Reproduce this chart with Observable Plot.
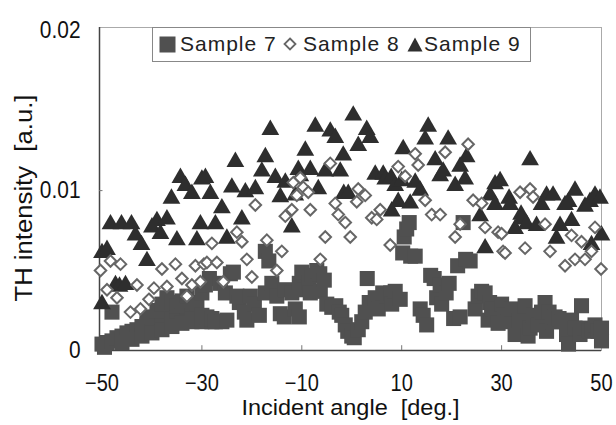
<!DOCTYPE html>
<html><head><meta charset="utf-8">
<script src="https://cdn.jsdelivr.net/npm/d3@7"></script>
<script src="https://cdn.jsdelivr.net/npm/@observablehq/plot@0.6"></script>
<style>
body{margin:0;background:#fff;}
#wrap{position:relative;width:616px;height:425px;overflow:hidden;}
#legend{position:absolute;left:152px;top:27px;width:379px;height:35px;box-sizing:border-box;border:1.5px solid #888;background:#fff;
  font-family:"Liberation Sans",Arimo,sans-serif;font-size:21px;letter-spacing:1px;color:#222;z-index:5;}
#legend .item{position:absolute;top:0;height:32px;display:flex;align-items:center;white-space:pre;}
</style></head>
<body><div id="wrap"><div id="chart"></div>
<div id="legend"></div></div>
<script>
// Series names
const seriesNames = ["Sample 7", "Sample 8", "Sample 9"];
const xTicks = [-50, -30, -10, 10, 30, 50];
const yTicks = [0, 0.01, 0.02];
const xLabel = "Incident angle\u00a0\u00a0[deg.]";
const yLabel = "TH intensity\u00a0\u00a0[a.u.]";

// [incident angle (deg), TH intensity (a.u.)]
const sample7 = [
[-50,0.0004],[-49.5,0.0002],[-49,0.0005],[-48,0.0006],[-48,0.0024],[-47,0.0008],[-46,0.0009],[-45,0.0011],[-44,0.0012],
[-43,0.0013],[-42,0.0015],[-41,0.0016],[-40,0.0018],[-39,0.0019],[-38,0.0021],[-37,0.0022],[-36,0.0024],[-35,0.0025],
[-34,0.0026],[-33,0.0027],[-32,0.0025],[-31,0.0021],[-41,0.0021],[-39,0.0025],[-38,0.0029],[-37,0.0033],[-36,0.0030],
[-46,0.0005],[-44,0.0007],[-42,0.0009],[-40,0.0011],[-38,0.0013],[-36,0.0015],[-34,0.0017],[-32,0.0018],[-30,0.0018],[-28,0.0018],
[-35,0.0028],[-34,0.0031],[-33,0.0034],[-32,0.0029],[-31,0.0030],[-30,0.0036],[-29.3,0.0041],[-28.5,0.0045],[-30,0.0022],
[-29,0.0021],[-28,0.0020],[-27.3,0.0018],[-26,0.0018],[-25,0.0019],[-26.3,0.0042],[-25.3,0.0036],[-24.3,0.0048],[-23.7,0.0049],
[-23,0.0034],[-22.5,0.0030],[-21.5,0.0024],[-21,0.0019],[-20.3,0.0034],[-19.5,0.0029],[-18.5,0.0022],[-17.3,0.0036],
[-17.3,0.0062],[-16.6,0.0056],[-16,0.0042],[-15,0.0034],[-14.3,0.0023],[-13.5,0.0021],[-13.3,0.0038],[-12,0.0036],
[-11.3,0.0026],[-10.5,0.0021],[-10.5,0.0042],[-10,0.0049],[-9.5,0.0038],[-8.5,0.0043],[-8.3,0.0036],[-7.9,0.0047],[-7,0.0050],
[-6.4,0.0048],[-6.3,0.0037],[-5.5,0.0044],[-5,0.0029],[-4,0.0027],[-3.2,0.0028],[-2.5,0.0024],[-2,0.0022],[-1.3,0.0016],
[-0.8,0.0012],[0,0.0009],[0.5,0.0008],[1.3,0.0013],[2,0.0018],[2.7,0.0024],[3.1,0.0045],[3.5,0.0030],[4.7,0.0033],
[5.3,0.0026],[5.5,0.0030],[6.2,0.0036],[7,0.0034],[7.8,0.0036],[8,0.0029],[8.7,0.0037],[9.7,0.0032],[10.2,0.0061],
[10.5,0.0071],[11,0.0076],[11.5,0.0080],[11.8,0.0059],[12.7,0.0059],[13.7,0.0026],[14.3,0.0022],[15,0.0016],[15.8,0.0047],
[16.5,0.0045],[17,0.0033],[17.7,0.0041],[18,0.0029],[18.9,0.0036],[19.5,0.0042],[20.4,0.0020],[21.2,0.0053],[21.7,0.0021],
[22.3,0.0080],[22.8,0.0057],[23.7,0.0056],[24.7,0.0026],[25.3,0.0034],[26,0.0037],[26.7,0.0036],[27.3,0.0019],[27.6,0.0030],
[28,0.0026],[28.7,0.0020],[29.3,0.0017],[30,0.0029],[30.5,0.0022],[31.3,0.0018],[32,0.0026],[32.7,0.0010],[33.5,0.0019],
[34,0.0018],[34.7,0.0028],[35.3,0.0009],[35.7,0.0014],[36.3,0.0022],[37.3,0.0016],[38,0.0024],[38.7,0.0030],[39,0.0012],
[39.5,0.0024],[40.2,0.0018],[40.7,0.0021],[41.5,0.0020],[42,0.0018],[43,0.0010],[43.4,0.0004],[44,0.0019],[44.7,0.0014],
[45.7,0.0010],[46,0.0028],[46.7,0.0014],[47.5,0.0012],[48.1,0.0013],[48.7,0.0016],[49.3,0.0012],[50,0.0014],[50,0.0006]
];

const sample8 = [
[-50.3,0.0050],[-49,0.0038],[-48.3,0.0056],[-47,0.0033],[-46.3,0.0054],[-44.3,0.0024],[-43,0.0041],[-42.3,0.0026],
[-40.6,0.0032],[-39.6,0.0039],[-38,0.0051],[-37,0.0040],[-35.3,0.0054],[-34,0.0045],[-33,0.0034],[-32,0.0041],[-31.3,0.0053],
[-30.3,0.0043],[-29.6,0.0054],[-29,0.0055],[-28,0.0067],[-27,0.0055],[-25.7,0.0043],[-23,0.0074],[-22,0.0068],[-21,0.0057],
[-20,0.0046],[-19.3,0.0091],[-17,0.0069],[-15,0.0050],[-14,0.0062],[-13.3,0.0084],[-12,0.0088],[-11.7,0.0105],[-11,0.0097],
[-10.3,0.0108],[-9.7,0.0102],[-8.7,0.0099],[-8.3,0.0088],[-6.3,0.0057],[-5.3,0.0071],[-4.3,0.0117],[-3.3,0.0092],[-2.7,0.0085],
[-1.3,0.0080],[-0.3,0.0071],[1,0.0093],[1.3,0.0101],[2.7,0.0097],[4,0.0083],[5,0.0082],[5.7,0.0088],[7.7,0.0066],[9.3,0.0115],
[10.7,0.0109],[12.7,0.0123],[13.3,0.0116],[14.7,0.0094],[16,0.0085],[17.7,0.0085],[18.7,0.0124],[20.7,0.0071],[21.7,0.0079],
[23.3,0.0129],[24.3,0.0094],[26,0.0092],[26.7,0.0077],[29.3,0.0074],[30,0.0073],[30.3,0.0062],[30.7,0.0061],[33.7,0.0099],
[34.7,0.0064],[35.7,0.0101],[36.3,0.0096],[38.7,0.0079],[39.7,0.0062],[42.7,0.0053],[44,0.0072],[44.7,0.0057],[46,0.0068],
[46.7,0.0057],[48,0.0062],[48.7,0.0077],[49.9,0.0051]
];

const sample9 = [
[-50,0.0029],[-50,0.0061],[-49,0.0063],[-48.3,0.0079],[-47.3,0.0041],[-46.5,0.0040],[-46.1,0.0079],[-45.3,0.0041],[-44.1,0.0079],
[-43.3,0.0072],[-42.1,0.0066],[-41,0.0056],[-40,0.0077],[-39,0.0081],[-38.3,0.0073],[-37,0.0082],[-36.1,0.0095],[-35,0.0069],
[-34.3,0.0108],[-33.3,0.0103],[-32,0.0098],[-31,0.0069],[-30.3,0.0079],[-30,0.0107],[-29.3,0.0108],[-28.3,0.0098],[-27.3,0.0079],
[-26,0.0089],[-25,0.0070],[-24,0.0102],[-23.3,0.0118],[-22,0.0082],[-21.3,0.0099],[-19.3,0.0101],[-18,0.0112],[-17.3,0.0121],
[-16.3,0.0138],[-15.3,0.0108],[-14.3,0.0096],[-13.3,0.0105],[-12,0.0077],[-11.3,0.0097],[-10.7,0.0113],[-10.3,0.0109],
[-9.3,0.0125],[-8.3,0.0113],[-7.3,0.0140],[-6.7,0.0101],[-5.3,0.0112],[-4.3,0.0137],[-3.3,0.0133],[-2.3,0.0112],[-1.7,0.0122],
[-1.6,0.0098],[-0.7,0.0098],[0.3,0.0147],[1.3,0.0128],[3,0.0138],[3.7,0.0133],[4.7,0.0110],[6.3,0.0110],[6.7,0.0107],
[7.9,0.0108],[8,0.0087],[8.7,0.0103],[9.3,0.0093],[10,0.0106],[10.3,0.0126],[11.7,0.0092],[12.7,0.0105],[13.7,0.0100],
[14.7,0.0132],[15.3,0.0140],[16.7,0.0119],[17.7,0.0109],[18.3,0.0112],[19.3,0.0132],[20.7,0.0103],[21.7,0.0115],[22.7,0.0107],
[23,0.0121],[25.7,0.0084],[26.7,0.0064],[27.7,0.0097],[28.7,0.0091],[28.7,0.0104],[29.7,0.0106],[31.5,0.0095],[31.7,0.0091],
[32.7,0.0076],[33.9,0.0085],[34,0.0082],[35,0.0079],[35.7,0.0119],[37,0.0078],[38,0.0091],[39,0.0097],[40.3,0.0097],
[41,0.0070],[41.7,0.0078],[42.7,0.0091],[43.4,0.0093],[44,0.0081],[44.7,0.0100],[46.7,0.0090],[47.7,0.0093],[48,0.0066],
[48.7,0.0097],[49.7,0.0095],[50,0.0072]
];

const font = '"Liberation Sans",Arimo,sans-serif';
const col7 = "#505050", col8 = "#666", col9 = "#2e2e2e";

const chart = Plot.plot({
  width: 616, height: 425,
  marginLeft: 99, marginRight: 15, marginTop: 27, marginBottom: 75,
  style: {fontFamily: font, background: "#fff", color: "#111"},
  x: {domain: [-50.5, 50]},
  y: {domain: [0, 0.0202]},
  marks: [
    Plot.frame({stroke: "#aaa"}),
    Plot.ruleX([-50.5], {stroke: "#444", strokeWidth: 1.5}),
    Plot.ruleY([0], {stroke: "#444", strokeWidth: 1.5}),
    Plot.ruleX(xTicks.slice(1, -1), {y1: 0, y2: 0.0003, stroke: "#777"}),
    Plot.ruleY([0.01], {x1: -50.5, x2: -49.8, stroke: "#777"}),
    Plot.axisX({ticks: xTicks, tickSize: 0, tickPadding: 24, fontSize: 23, label: null}),
    Plot.axisY({ticks: yTicks, tickSize: 0, tickPadding: 19, fontSize: 24, label: null,
      tickFormat: d => d === 0 ? "0" : d.toFixed(2)}),
    Plot.text([xLabel], {frameAnchor: "bottom", dy: 64, fontSize: 22, textAnchor: "middle"}),
    Plot.text([yLabel], {frameAnchor: "left", dx: -75, dy: 9, rotate: -90, fontSize: 23, textAnchor: "middle"}),
    Plot.dot(sample7, {x: d => d[0], y: d => d[1], symbol: "square", r: 8.5, fill: col7, stroke: "none"}),
    Plot.dot(sample9, {x: d => d[0], y: d => d[1], symbol: "triangle", r: 6.6, fill: col9, stroke: "none"}),
    Plot.dot(sample8, {x: d => d[0], y: d => d[1], symbol: "diamond2", r: 5.2, fill: "#fff", stroke: col8, strokeWidth: 2})
  ]
});
document.getElementById("chart").append(chart);

// narrow the glyphs like the reference's condensed gothic face
function squeeze(nodes, ratio, fixed) {
  nodes.forEach(t => {
    const len = fixed || t.getComputedTextLength() * ratio;
    t.setAttribute("textLength", len);
    t.setAttribute("lengthAdjust", "spacingAndGlyphs");
  });
}
squeeze(chart.querySelectorAll('g[aria-label="x-axis tick label"] text, g[aria-label="y-axis tick label"] text'), 0.87);
const labelTexts = chart.querySelectorAll('g[aria-label="text"] text');
squeeze([labelTexts[0]], 1, 218);
squeeze([labelTexts[1]], 1, 207);

// legend
const legend = document.getElementById("legend");
const symbols = [
  `<svg width="17" height="17"><rect x="0.5" y="0.5" width="16" height="16" fill="${col7}"/></svg>`,
  `<svg width="14" height="14"><path d="M7,1.5L12.5,7L7,12.5L1.5,7Z" fill="#fff" stroke="${col8}" stroke-width="1.8"/></svg>`,
  `<svg width="16" height="15"><path d="M8,0.5L15.5,14.5L0.5,14.5Z" fill="${col9}"/></svg>`
];
const symLeft = [6, 130, 254];
const textLeft = [27, 150, 271];
seriesNames.forEach((name, i) => {
  const s = document.createElement("div");
  s.className = "item"; s.style.left = symLeft[i] + "px"; s.innerHTML = symbols[i];
  const t = document.createElement("div");
  t.className = "item"; t.style.left = textLeft[i] + "px"; t.textContent = name;
  legend.append(s, t);
});
</script>
</body></html>
